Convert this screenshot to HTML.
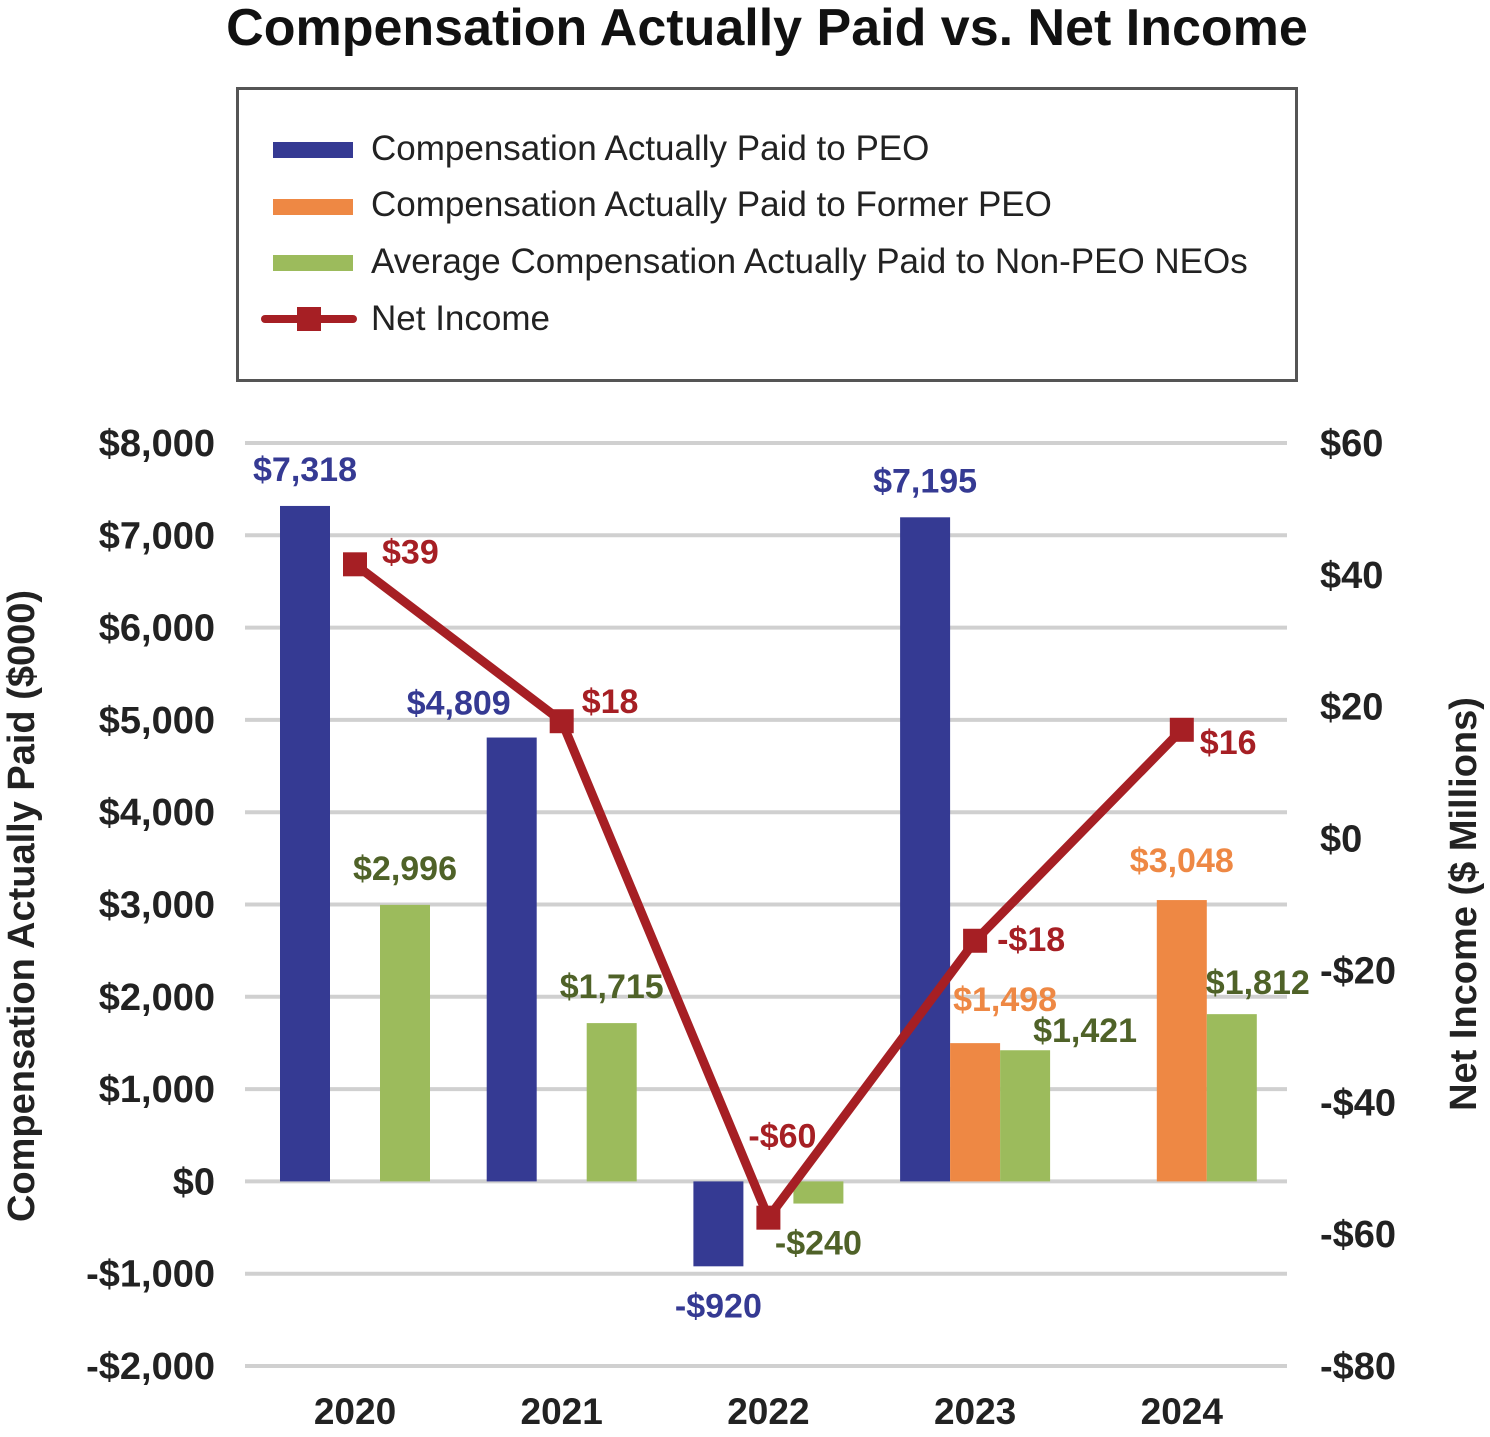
<!DOCTYPE html>
<html><head><meta charset="utf-8"><style>
html,body{margin:0;padding:0;background:#fff}
svg{display:block;font-family:"Liberation Sans",Arial,sans-serif}
</style></head><body>
<svg id="chart" width="1490" height="1437" viewBox="0 0 1490 1437">
<text x="767" y="45" text-anchor="middle" font-size="52" font-weight="bold" fill="#111">Compensation Actually Paid vs. Net Income</text>
<g>
<rect x="237.5" y="88.5" width="1059" height="292" fill="#fff" stroke="#555" stroke-width="3"/>
<rect x="273" y="142" width="80" height="16" fill="#353a93"/>
<text x="371" y="160" font-size="35" fill="#222">Compensation Actually Paid to PEO</text>
<rect x="273" y="199" width="80" height="16" fill="#ee8844"/>
<text x="371" y="216" font-size="35" fill="#222">Compensation Actually Paid to Former PEO</text>
<rect x="273" y="255" width="80" height="16" fill="#9cbb5c"/>
<text x="371" y="273" font-size="35" fill="#222">Average Compensation Actually Paid to Non-PEO NEOs</text>
<line x1="265" y1="319" x2="353" y2="319" stroke="#a61f24" stroke-width="8" stroke-linecap="round"/>
<rect x="297" y="307" width="24" height="24" fill="#a61f24"/>
<text x="371" y="330" font-size="35" fill="#222">Net Income</text>
</g>
<g id="grid"></g><g id="bars"></g><g id="line"></g><g id="labels"></g>
<text transform="translate(34,906) rotate(-90)" text-anchor="middle" font-size="38" font-weight="bold" fill="#222">Compensation Actually Paid ($000)</text>
<text transform="translate(1476,904) rotate(-90)" text-anchor="middle" font-size="38" font-weight="bold" fill="#222">Net Income ($ Millions)</text>
</svg>
<script>
const categories=["2020","2021","2022","2023","2024"];
const peo=[7318,4809,-920,7195,null];
const formerPeo=[null,null,null,1498,3048];
const neo=[2996,1715,-240,1421,1812];
const netIncome=[41.6,17.8,-57.5,-15.5,16.5];
const netIncomeLabels=["$39","$18","-$60","-$18","$16"];
const leftTicks=[8000,7000,6000,5000,4000,3000,2000,1000,0,-1000,-2000];
const rightTicks=[60,40,20,0,-20,-40,-60,-80];

const NS="http://www.w3.org/2000/svg";
const plotTop=443,plotBot=1366,xL=245,xR=1287;
const yL=v=>plotTop+(8000-v)/10000*(plotBot-plotTop);
const yR=v=>plotTop+(60-v)/140*(plotBot-plotTop);
const cx=i=>355+206.7*i;
function mk(tag,attrs,parent,text){const e=document.createElementNS(NS,tag);for(const k in attrs)e.setAttribute(k,attrs[k]);if(text!==undefined)e.textContent=text;document.getElementById(parent).appendChild(e);return e;}
const fmt=v=>(v<0?"-":"")+"$"+Math.abs(v).toLocaleString("en-US");

leftTicks.forEach(t=>{
  const l=mk("line",{x1:xL,x2:xR,y1:yL(t),y2:yL(t),stroke:"#d0d0d0","stroke-width":4},"grid");
  
  
  const tx=mk("text",{x:215,y:yL(t)+13,"text-anchor":"end","font-size":38,"font-weight":"bold",fill:"#222"},"grid",fmt(t));
  
  
});
rightTicks.forEach(t=>{
  const tx=mk("text",{x:1320,y:yR(t)+13,"font-size":38,"font-weight":"bold",fill:"#222"},"grid",fmt(t));
  
  
});
categories.forEach((c,i)=>{
  const tx=mk("text",{x:cx(i),y:1424,"text-anchor":"middle","font-size":37,"font-weight":"bold",fill:"#222"},"grid",c);
  
  
});
// label nudges [dx,dy] per series/category to avoid overlap (layout, not data)
const nudgePeo=[[0,0],[-53,2],[0,0],[0,0],[0,0]];
const nudgeFormer=[[0,0],[0,0],[0,0],[30,-7],[0,-3]];
const nudgeNeo=[[0,0],[0,0],[0,0],[60,17],[26,5]];
const series=[[peo,-50,"#353a93","#353a93","bar-peo",nudgePeo],[formerPeo,0,"#ee8844","#ee8844","bar-former-peo",nudgeFormer],[neo,50,"#9cbb5c","#4f6228","bar-neo",nudgeNeo]];
series.forEach(([arr,off,col,lc,name,nudge])=>{
  arr.forEach((v,i)=>{
    if(v===null)return;
    const x=cx(i)+off-25,y0=yL(0),y1=yL(v);
    const r=mk("rect",{x:x,y:Math.min(y0,y1),width:50,height:Math.abs(y1-y0),fill:col},"bars");
    
    
    const lx=cx(i)+off+nudge[i][0],ly=(v>=0?y1-25:y1+51)+nudge[i][1];
    const t=mk("text",{x:lx,y:ly,"text-anchor":"middle","font-size":34,"font-weight":"bold",fill:lc},"labels",fmt(v));
    
    
  });
});
const pts=netIncome.map((v,i)=>[cx(i),yR(v)]);
const pl=mk("polyline",{points:pts.map(p=>p.join(",")).join(" "),fill:"none",stroke:"#a61f24","stroke-width":9,"stroke-linejoin":"round"},"line");


const lOff=[[27,-1],[20,-8],[-20,-70],[22,10],[18,24]];
pts.forEach((p,i)=>{
  const m=mk("rect",{x:p[0]-12,y:p[1]-12,width:24,height:24,fill:"#a61f24"},"line");
  
  
  const t=mk("text",{x:p[0]+lOff[i][0],y:p[1]+lOff[i][1],"font-size":34,"font-weight":"bold",fill:"#a61f24"},"labels",netIncomeLabels[i]);
  
  
});
</script>
</body></html>
